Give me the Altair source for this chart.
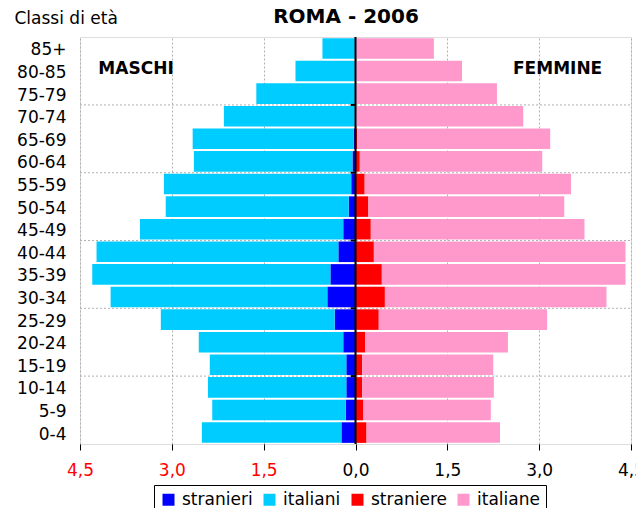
import altair as alt
import pandas as pd

ages = ["85+", "80-85", "75-79", "70-74", "65-69", "60-64", "55-59", "50-54", "45-49",
        "40-44", "35-39", "30-34", "25-29", "20-24", "15-19", "10-14", "5-9", "0-4"]

stranieri = [0.0, 0.0, 0.0, 0.01, 0.03, 0.05, 0.07, 0.11, 0.20, 0.28, 0.41, 0.46, 0.34, 0.20, 0.15, 0.15, 0.16, 0.23]
italiani = [0.54, 0.98, 1.62, 2.14, 2.63, 2.59, 3.06, 2.99, 3.32, 3.95, 3.89, 3.54, 2.84, 2.36, 2.23, 2.26, 2.18, 2.28]
straniere = [0.0, 0.0, 0.0, 0.0, 0.03, 0.07, 0.15, 0.21, 0.25, 0.30, 0.43, 0.48, 0.38, 0.16, 0.11, 0.11, 0.13, 0.18]
italiane = [1.28, 1.74, 2.31, 2.74, 3.15, 2.98, 3.37, 3.20, 3.49, 4.11, 3.98, 3.62, 2.75, 2.33, 2.14, 2.15, 2.08, 2.18]

series_names = ["stranieri", "italiani", "straniere", "italiane"]
series_colors = ["#0000FF", "#00CCFF", "#FF0000", "#FF99CC"]
x_ticks = [-4.5, -3.0, -1.5, 0.0, 1.5, 3.0, 4.5]
grid_ages = ["70-74", "55-59", "40-44", "25-29", "10-14"]
title_text = "ROMA - 2006"

rows = []
for i, a in enumerate(ages):
    rows.append({"age": a, "serie": "stranieri", "x0": 0.0, "x1": -stranieri[i]})
    rows.append({"age": a, "serie": "italiani", "x0": -stranieri[i], "x1": -(stranieri[i] + italiani[i])})
    rows.append({"age": a, "serie": "straniere", "x0": 0.0, "x1": straniere[i]})
    rows.append({"age": a, "serie": "italiane", "x0": straniere[i], "x1": straniere[i] + italiane[i]})
df = pd.DataFrame(rows)

FONT = "DejaVu Sans"
xscale = alt.Scale(domain=[-4.5, 4.5], nice=False, zero=False)
yscale = alt.Scale(domain=ages, paddingInner=0.09, paddingOuter=0.05)

bars = alt.Chart(df).mark_bar().encode(
    x=alt.X("x0:Q", scale=xscale,
            axis=alt.Axis(values=x_ticks, title=None, grid=True, gridDash=[2, 2], gridColor="#b0b0b0",
                          tickSize=6, tickColor="black", domain=False,
                          labelExpr="replace(format(abs(datum.value), '.1f'), '.', ',')",
                          labelColor={"condition": {"test": "datum.value < 0", "value": "#FF0000"}, "value": "black"},
                          labelFontSize=17, labelFont=FONT, labelPadding=12, labelFlush=False)),
    x2="x1:Q",
    y=alt.Y("age:N", scale=yscale, sort=ages,
            axis=alt.Axis(title="Classi di età", titleAngle=0, titleAlign="left", titleBaseline="alphabetic",
                          titleX=-66, titleY=-14, titleFontSize=17, titleFont=FONT, titleFontWeight="normal",
                          ticks=False, tickSize=0, domain=False, grid=False, labelOffset=2,
                          labelFontSize=17, labelFont=FONT, labelColor="black", labelPadding=14)),
    color=alt.Color("serie:N", scale=alt.Scale(domain=series_names, range=series_colors),
                    legend=alt.Legend(title=None, orient="none", legendX=74, legendY=448,
                                      direction="horizontal", symbolType="square", symbolSize=144,
                                      symbolStrokeWidth=0, symbolOpacity=1, labelFontSize=17, labelFont=FONT,
                                      labelOffset=5, columnPadding=8, padding=6, strokeColor="black")),
)

gdf = pd.DataFrame({"age": grid_ages, "xa": [-4.5] * len(grid_ages), "xb": [4.5] * len(grid_ages),
                    "ta": [-0.08] * len(grid_ages), "tb": [0.0] * len(grid_ages)})
hgrid = alt.Chart(gdf).mark_rule(color="#b0b0b0", strokeDash=[2, 2], strokeWidth=1, yOffset=-1).encode(
    x=alt.X("xa:Q", scale=xscale), x2="xb:Q",
    y=alt.Y("age:N", scale=yscale, sort=ages, bandPosition=0),
)
cticks = alt.Chart(gdf).mark_rule(color="black", strokeWidth=2, yOffset=-1).encode(
    x=alt.X("ta:Q", scale=xscale), x2="tb:Q",
    y=alt.Y("age:N", scale=yscale, sort=ages, bandPosition=0),
)
center = alt.Chart(pd.DataFrame({"x": [0.0]})).mark_rule(color="black", strokeWidth=2).encode(
    x=alt.X("x:Q", scale=xscale)
)

tdf = pd.DataFrame({"label": ["MASCHI", "FEMMINE"], "x": [-4.2, 4.03], "age": ["80-85", "80-85"]})
txt_m = alt.Chart(tdf[tdf.label == "MASCHI"]).mark_text(font=FONT, fontSize=17, fontWeight="bold",
                                                         align="left", baseline="middle", dy=-2,
                                                         color="black").encode(
    x=alt.X("x:Q", scale=xscale), y=alt.Y("age:N", scale=yscale, sort=ages), text="label:N")
txt_f = alt.Chart(tdf[tdf.label == "FEMMINE"]).mark_text(font=FONT, fontSize=17, fontWeight="bold",
                                                          align="right", baseline="middle", dy=-2,
                                                          color="black").encode(
    x=alt.X("x:Q", scale=xscale), y=alt.Y("age:N", scale=yscale, sort=ages), text="label:N")

title = alt.Chart(pd.DataFrame({"t": [title_text]})).mark_text(
    font=FONT, fontSize=20, fontWeight="bold", align="center", baseline="alphabetic", color="black"
).encode(x=alt.value(266), y=alt.value(-14), text="t:N")

chart = alt.layer(hgrid, bars, center, cticks, txt_m, txt_f, title).properties(
    width=551, height=407,
    autosize=alt.AutoSizeParams(type="none"),
    padding={"left": 72, "top": 29, "right": 5, "bottom": 64},
).configure_view(stroke="black", strokeWidth=2).configure(background="white")

chart.save("out.html", embed_options={"renderer": "svg", "actions": False})
